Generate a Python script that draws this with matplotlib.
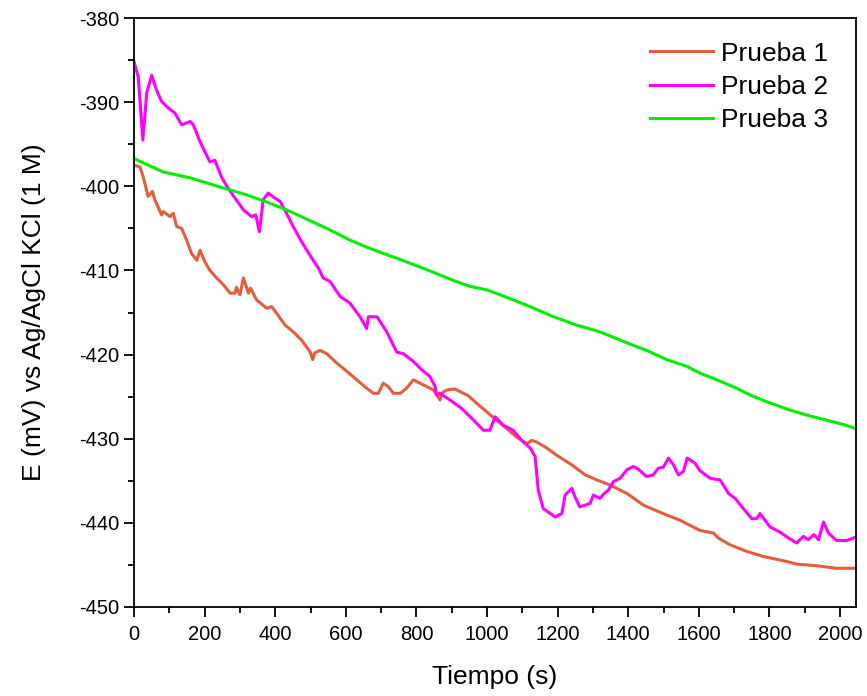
import numpy as np
import matplotlib
matplotlib.use('Agg')
import matplotlib.pyplot as plt
from matplotlib.ticker import MultipleLocator

plt.rcParams['font.family'] = ['Liberation Sans', 'DejaVu Sans']
plt.rcParams['axes.unicode_minus'] = False

# Prueba 1 (orange)
t1 = [0, 17, 26, 40, 52, 59, 78, 83, 102, 111, 121, 135, 149, 163, 178, 187, 201,
      215, 234, 253, 272, 286, 290, 300, 310, 324, 330, 347, 376, 390, 404, 428,
      451, 475, 499, 506, 512, 527, 546, 574, 603, 631, 659, 678, 692, 706, 720,
      735, 754, 772, 791, 810, 829, 848, 867, 871, 886, 909, 928, 947, 971, 999,
      1027, 1056, 1084, 1112, 1127, 1141, 1169, 1202, 1240, 1278, 1311, 1348, 1396,
      1443, 1499, 1547, 1603, 1641, 1655, 1688, 1736, 1783, 1839, 1877, 1934, 1990, 2045]
e1 = [-397.5, -397.7, -398.9, -401.2, -400.6, -401.6, -403.4, -403.0, -403.6, -403.2,
      -404.8, -405.0, -406.4, -408.0, -408.8, -407.6, -409.0, -410.0, -410.9, -411.7,
      -412.7, -412.7, -412.0, -412.9, -410.9, -412.7, -412.1, -413.5, -414.5, -414.3,
      -415.1, -416.5, -417.3, -418.3, -419.7, -420.6, -419.8, -419.5, -419.9, -421.0,
      -422.0, -423.0, -424.0, -424.6, -424.6, -423.4, -423.8, -424.6, -424.6, -424.0,
      -423.0, -423.4, -423.8, -424.2, -425.4, -424.6, -424.2, -424.1, -424.5, -424.9,
      -425.8, -426.8, -427.8, -428.8, -429.8, -430.6, -430.2, -430.4, -431.1, -432.1,
      -433.1, -434.3, -434.9, -435.5, -436.5, -437.9, -438.9, -439.7, -440.9, -441.2,
      -441.8, -442.6, -443.4, -444.0, -444.5, -444.9, -445.1, -445.4, -445.4]

# Prueba 2 (magenta)
t2 = [0, 12, 25, 36, 50, 64, 78, 97, 116, 135, 159, 168, 187, 215, 229, 248, 263,
      286, 310, 333, 345, 355, 366, 380, 399, 414, 432, 451, 475, 503, 522, 536,
      555, 584, 612, 640, 659, 664, 688, 716, 744, 763, 791, 815, 838, 853, 857,
      866, 895, 928, 957, 990, 1008, 1023, 1046, 1074, 1098, 1122, 1136, 1145,
      1159, 1193, 1212, 1221, 1240, 1249, 1263, 1292, 1301, 1320, 1330, 1344, 1358,
      1377, 1396, 1414, 1428, 1452, 1471, 1485, 1499, 1514, 1528, 1542, 1556, 1567,
      1589, 1603, 1632, 1660, 1684, 1703, 1726, 1750, 1764, 1773, 1802, 1830, 1854,
      1877, 1896, 1910, 1926, 1939, 1953, 1967, 1990, 2019, 2045]
e2 = [-385.2, -387.0, -394.5, -388.9, -386.8, -388.6, -389.9, -390.7, -391.3, -392.7,
      -392.3, -392.7, -394.7, -397.1, -396.9, -398.9, -400.0, -401.4, -402.8, -403.6,
      -403.4, -405.4, -401.6, -400.8, -401.4, -401.8, -403.2, -404.8, -406.6, -408.5,
      -409.7, -410.9, -411.3, -413.1, -413.9, -415.5, -416.9, -415.5, -415.5, -417.3,
      -419.7, -419.9, -420.8, -421.8, -422.6, -423.8, -424.8, -424.6, -425.4, -426.4,
      -427.6, -429.0, -429.0, -427.4, -428.4, -429.0, -430.2, -431.1, -432.1, -436.1,
      -438.3, -439.3, -438.9, -436.7, -435.9, -436.9, -438.1, -437.7, -436.7, -437.1,
      -436.6, -436.1, -435.1, -434.7, -433.7, -433.3, -433.6, -434.5, -434.3, -433.5,
      -433.4, -432.3, -433.1, -434.3, -433.9, -432.3, -432.9, -433.8, -434.7, -434.9,
      -436.5, -437.1, -438.3, -439.5, -439.5, -438.9, -440.5, -441.1, -441.8, -442.4,
      -441.6, -442.0, -441.4, -442.0, -439.9, -441.2, -442.1, -442.1, -441.7]

# Prueba 3 (green)
t3 = [0, 36, 83, 116, 159, 206, 253, 310, 366, 432, 489, 546, 612, 669, 754, 829,
      905, 952, 999, 1056, 1122, 1188, 1254, 1320, 1396, 1452, 1509, 1566, 1603,
      1651, 1707, 1745, 1792, 1858, 1915, 1972, 2009, 2045]
e3 = [-396.7, -397.4, -398.3, -398.6, -399.0, -399.6, -400.2, -400.9, -401.7, -402.8,
      -403.9, -405.0, -406.4, -407.4, -408.7, -409.9, -411.2, -411.9, -412.3, -413.2,
      -414.3, -415.5, -416.5, -417.3, -418.6, -419.5, -420.6, -421.4, -422.2, -423.0,
      -424.0, -424.8, -425.6, -426.6, -427.3, -427.9, -428.3, -428.8]

labels = ['Prueba 1', 'Prueba 2', 'Prueba 3']
colors = ['#E65C3C', '#FF00FF', '#00F000']

fig = plt.figure(figsize=(8.67, 6.96), dpi=100)
ax = fig.add_axes([0.1546, 0.1279, 0.8327, 0.8462])

for t, e, lab, c in zip([t1, t2, t3], [e1, e2, e3], labels, colors):
    ax.plot(t, e, color=c, lw=2.2, label=lab)

ax.set_xlim(0, 2045)
ax.set_ylim(-450, -380)
ax.xaxis.set_major_locator(MultipleLocator(200))
ax.xaxis.set_minor_locator(MultipleLocator(100))
ax.yaxis.set_major_locator(MultipleLocator(10))
ax.yaxis.set_minor_locator(MultipleLocator(5))
ax.tick_params(which='major', direction='out', length=7, width=1.3, labelsize=14.5)
ax.tick_params(axis='x', which='major', pad=6)
ax.tick_params(which='minor', direction='out', length=4, width=1.3)
for s in ax.spines.values():
    s.set_linewidth(1.3)

ax.set_xlabel('Tiempo (s)', fontsize=19, labelpad=15)
ax.set_ylabel('E (mV) vs Ag/AgCl KCl (1 M)', fontsize=19, labelpad=24)

ax.legend(loc='upper left', bbox_to_anchor=(0.714, 0.96), frameon=False,
          fontsize=19, handlelength=2.4, handletextpad=0.3, labelspacing=0.35,
          borderpad=0, borderaxespad=0)

fig.savefig('out.png', dpi=100)
